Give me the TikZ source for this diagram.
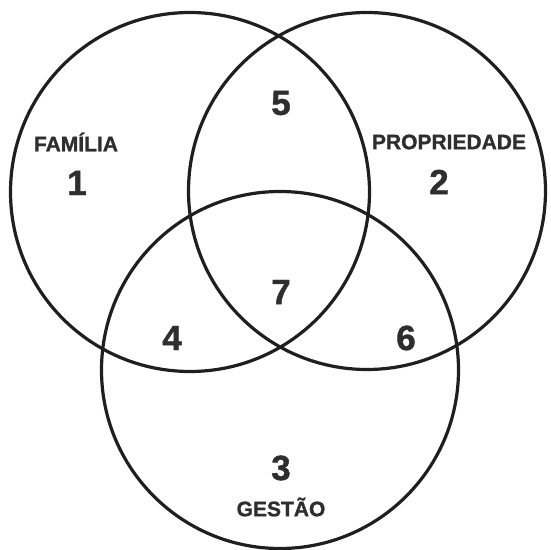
\documentclass[tikz,border=0pt]{standalone}
\usepackage{fontspec}
\setmainfont{Liberation Sans}[BoldFeatures={FakeBold=1.2}]
\begin{document}
\begin{tikzpicture}[x=1pt,y=1pt,
  ring/.style={draw=black!88, line width=3.2pt},
  lbl/.style={text=black!82, font=\bfseries\fontsize{21}{21}\selectfont, inner sep=0pt},
  num/.style={text=black!82, font=\bfseries\fontsize{35}{35}\selectfont, inner sep=0pt}]
\useasboundingbox (0,0) rectangle (550,550);
\node[ring, circle, minimum size=359pt, inner sep=0pt] (fam) at (190,358) {};
\node[ring, circle, minimum size=357pt, inner sep=0pt] (prop) at (367,359) {};
\node[ring, circle, minimum size=357pt, inner sep=0pt] (ges) at (280,180) {};
\node[lbl] (tfam) at (76,408) {FAMÍLIA};
\node[num] (n1) at (77,367) {1};
\node[lbl] (tprop) at (449,408) {PROPRIEDADE};
\node[num] (n2) at (439,368) {2};
\node[num] (n5) at (281,447) {5};
\node[num] (n7) at (281,258) {7};
\node[num] (n4) at (172,212) {4};
\node[num] (n6) at (406,212) {6};
\node[num] (n3) at (281,82) {3};
\node[lbl] (tges) at (281,43) {GESTÃO};
\end{tikzpicture}
\end{document}
